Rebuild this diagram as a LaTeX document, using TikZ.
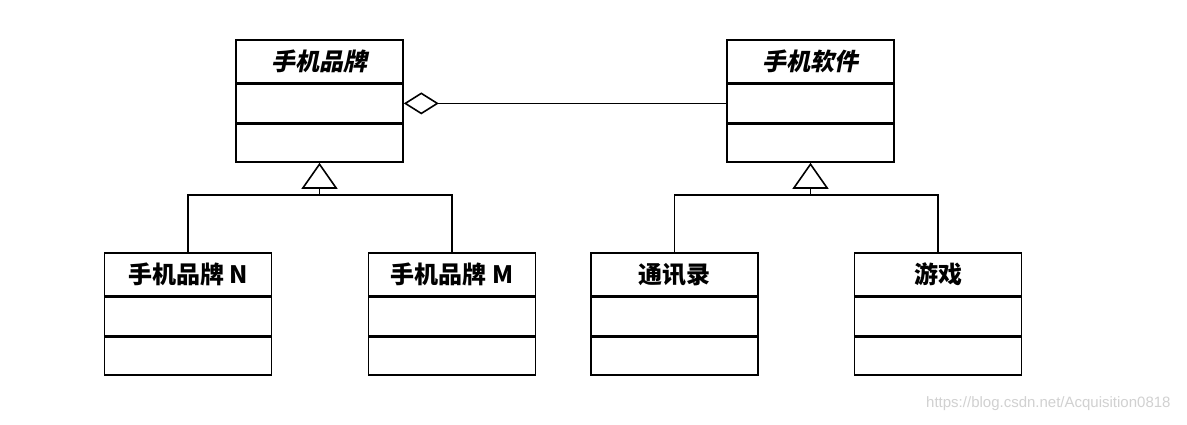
\documentclass[tikz,border=0pt]{standalone}
\usepackage{fontspec}
\newfontfamily\cjk{Noto Sans CJK SC}
\newfontfamily\cjkslant{Noto Sans CJK SC}[FakeSlant=0.2]
\newfontfamily\wmfont{Liberation Sans}
\usetikzlibrary{positioning,arrows.meta}
\begin{document}
\begin{tikzpicture}[x=0.5pt,y=-0.5pt,line width=0.8pt,
  cname/.style={draw,minimum width=83.5pt,minimum height=21.5pt,inner sep=0pt,font=\cjk\bfseries\fontsize{12}{14}\selectfont},
  cpart/.style={draw,minimum width=83.5pt,minimum height=19pt,inner sep=0pt},
  inherit/.style={-{Triangle[open,length=13pt,width=18pt]}},
  aggr/.style={{Diamond[open,length=17.5pt,width=11pt]}-}]
\useasboundingbox [fill=white] (0,0) rectangle (1187,424);
% abstract classes
\node [cname,anchor=north] (brand) at (319.5,39) {\cjkslant 手机品牌};
\node [cpart,below=0pt of brand] (brand-a) {};
\node [cpart,below=0pt of brand-a] (brand-m) {};
\node [cname,anchor=north] (soft) at (810.5,39) {\cjkslant 手机软件};
\node [cpart,below=0pt of soft] (soft-a) {};
\node [cpart,below=0pt of soft-a] (soft-m) {};
% concrete classes
\node [cname,anchor=north] (bn) at (188,252) {手机品牌 N};
\node [cpart,below=0pt of bn] (bn-a) {};
\node [cpart,below=0pt of bn-a] (bn-m) {};
\node [cname,anchor=north] (bm) at (452,252) {手机品牌 M};
\node [cpart,below=0pt of bm] (bm-a) {};
\node [cpart,below=0pt of bm-a] (bm-m) {};
\node [cname,anchor=north] (contacts) at (674.5,252) {通讯录};
\node [cpart,below=0pt of contacts] (contacts-a) {};
\node [cpart,below=0pt of contacts-a] (contacts-m) {};
\node [cname,anchor=north] (game) at (938,252) {游戏};
\node [cpart,below=0pt of game] (game-a) {};
\node [cpart,below=0pt of game-a] (game-m) {};
% relations
\draw [aggr] (brand-a.east) -- (soft-a.west);
\coordinate (brand-j) at ([yshift=-16pt]brand-m.south);
\coordinate (soft-j) at ([yshift=-16pt]soft-m.south);
\draw (bn.north) |- (brand-j) -| (bm.north);
\draw [inherit] (brand-j) -- (brand-m.south);
\draw (contacts.north) |- (soft-j) -| (game.north);
\draw [inherit] (soft-j) -- (soft-m.south);
\node [anchor=east,text=black!18,font=\wmfont\fontsize{7.5}{9}\selectfont] (mark) at (1178,404) {https://blog.csdn.net/Acquisition0818};
\end{tikzpicture}
\end{document}
